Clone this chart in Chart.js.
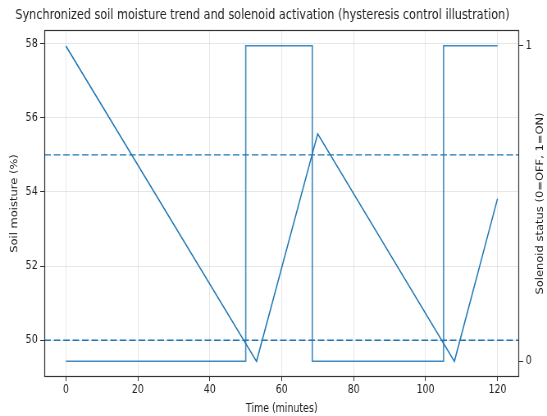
<!DOCTYPE html>
<html lang="en">
<head>
  <meta charset="UTF-8" />
  <title>Soil moisture and solenoid activation</title>
  <script src="https://cdn.jsdelivr.net/npm/chart.js"></script>
  <style>
    html, body { margin: 0; padding: 0; background: #ffffff; overflow: hidden; }
    /* drawn wider, then squeezed horizontally like the reference image */
    #wrap { width: 667px; height: 416px; position: relative; transform: scaleX(0.8201); transform-origin: 0 0; }
  </style>
</head>
<body>
  <div id="wrap"><canvas id="chart"></canvas></div>

  <script>
    // moisture trend vertices (minutes, %)
    const moistureTimes = [0, 53, 70, 108, 120];
    const moistureValues = [57.94, 49.43, 55.57, 49.43, 53.82];

    // solenoid state changes (step, 0=OFF 1=ON)
    const solenoidTimes = [0, 50, 50, 68.5, 68.5, 105, 105, 120];
    const solenoidValues = [0, 0, 1, 1, 0, 0, 1, 1];

    // hysteresis thresholds
    const thresholds = [55, 50];

    const xTicks = [0, 20, 40, 60, 80, 100, 120];
    const yTicks = [50, 52, 54, 56, 58];
    const y2Ticks = [0, 1];

    const xMin = -6, xMax = 126;
    const blue = '#1f77b4';
    const fontFamily = "'DejaVu Sans', sans-serif";

    const datasets = [];
    thresholds.forEach(t => {
      datasets.push({
        data: [{ x: xMin, y: t }, { x: xMax, y: t }],
        yAxisID: 'y',
        borderColor: blue,
        borderWidth: 1.4,
        borderDash: [8, 3.5],
        pointRadius: 0
      });
    });
    datasets.push({
      label: 'Soil moisture',
      data: moistureTimes.map((t, i) => ({ x: t, y: moistureValues[i] })),
      yAxisID: 'y',
      borderColor: blue,
      borderWidth: 1.5,
      pointRadius: 0,
      tension: 0
    });
    datasets.push({
      label: 'Solenoid',
      data: solenoidTimes.map((t, i) => ({ x: t, y: solenoidValues[i] })),
      yAxisID: 'y2',
      borderColor: 'rgba(31,119,180,0.85)',
      borderWidth: 1.6,
      pointRadius: 0,
      tension: 0
    });

    // frame, title and right axis title
    const extras = {
      id: 'extras',
      afterDraw(chart) {
        const { ctx, chartArea: a } = chart;
        ctx.save();
        ctx.strokeStyle = '#333333';
        ctx.lineWidth = 1.2;
        ctx.strokeRect(a.left + 0.5, a.top + 0.5, a.right - a.left - 1, a.bottom - a.top - 1);

        ctx.fillStyle = '#222222';
        ctx.font = '13.7px ' + fontFamily;
        ctx.textAlign = 'center';
        ctx.textBaseline = 'middle';
        ctx.fillText('Synchronized soil moisture trend and solenoid activation (hysteresis control illustration)',
          320, 15);

        ctx.translate(659, (a.top + a.bottom) / 2);
        ctx.rotate(-Math.PI / 2);
        ctx.font = '11.5px ' + fontFamily;
        ctx.fillText('Solenoid status (0=OFF, 1=ON)', 0, 0);
        ctx.restore();
      }
    };

    const tickFont = { family: fontFamily, size: 11.5 };
    const labelFont = { family: fontFamily, size: 11.5 };

    new Chart(document.getElementById('chart'), {
      type: 'line',
      data: { datasets },
      options: {
        responsive: true,
        maintainAspectRatio: false,
        animation: false,
        layout: { padding: { top: 30, left: 0, right: 0, bottom: 0 } },
        plugins: { legend: { display: false }, tooltip: { enabled: false } },
        scales: {
          x: {
            type: 'linear',
            min: xMin,
            max: xMax,
            afterBuildTicks: s => { s.ticks = xTicks.map(v => ({ value: v })); },
            afterFit: s => { s.height = 39; },
            ticks: { font: tickFont, color: '#222', padding: 2, maxRotation: 0 },
            grid: { color: 'rgba(176,176,176,0.3)', tickColor: '#333', tickLength: 4 },
            border: { display: false },
            title: { display: true, text: 'Time (minutes)', font: labelFont, color: '#222', padding: { top: 0, bottom: 0 } }
          },
          y: {
            position: 'left',
            min: 49.007,
            max: 58.37,
            afterBuildTicks: s => { s.ticks = yTicks.map(v => ({ value: v })); },
            afterFit: s => { s.width = 54; },
            ticks: { font: tickFont, color: '#222', padding: 3 },
            grid: { color: 'rgba(176,176,176,0.3)', tickColor: '#333', tickLength: 5 },
            border: { display: false },
            title: { display: true, text: 'Soil moisture (%)', font: labelFont, color: '#222', padding: { top: 11, bottom: 0 } }
          },
          y2: {
            position: 'right',
            min: -0.05,
            max: 1.05,
            afterBuildTicks: s => { s.ticks = y2Ticks.map(v => ({ value: v })); },
            afterFit: s => { s.width = 34; },
            ticks: { font: tickFont, color: '#222', padding: 3 },
            grid: { drawOnChartArea: false, tickColor: '#333', tickLength: 5 },
            border: { display: false }
          }
        }
      },
      plugins: [extras]
    });
  </script>
</body>
</html>
